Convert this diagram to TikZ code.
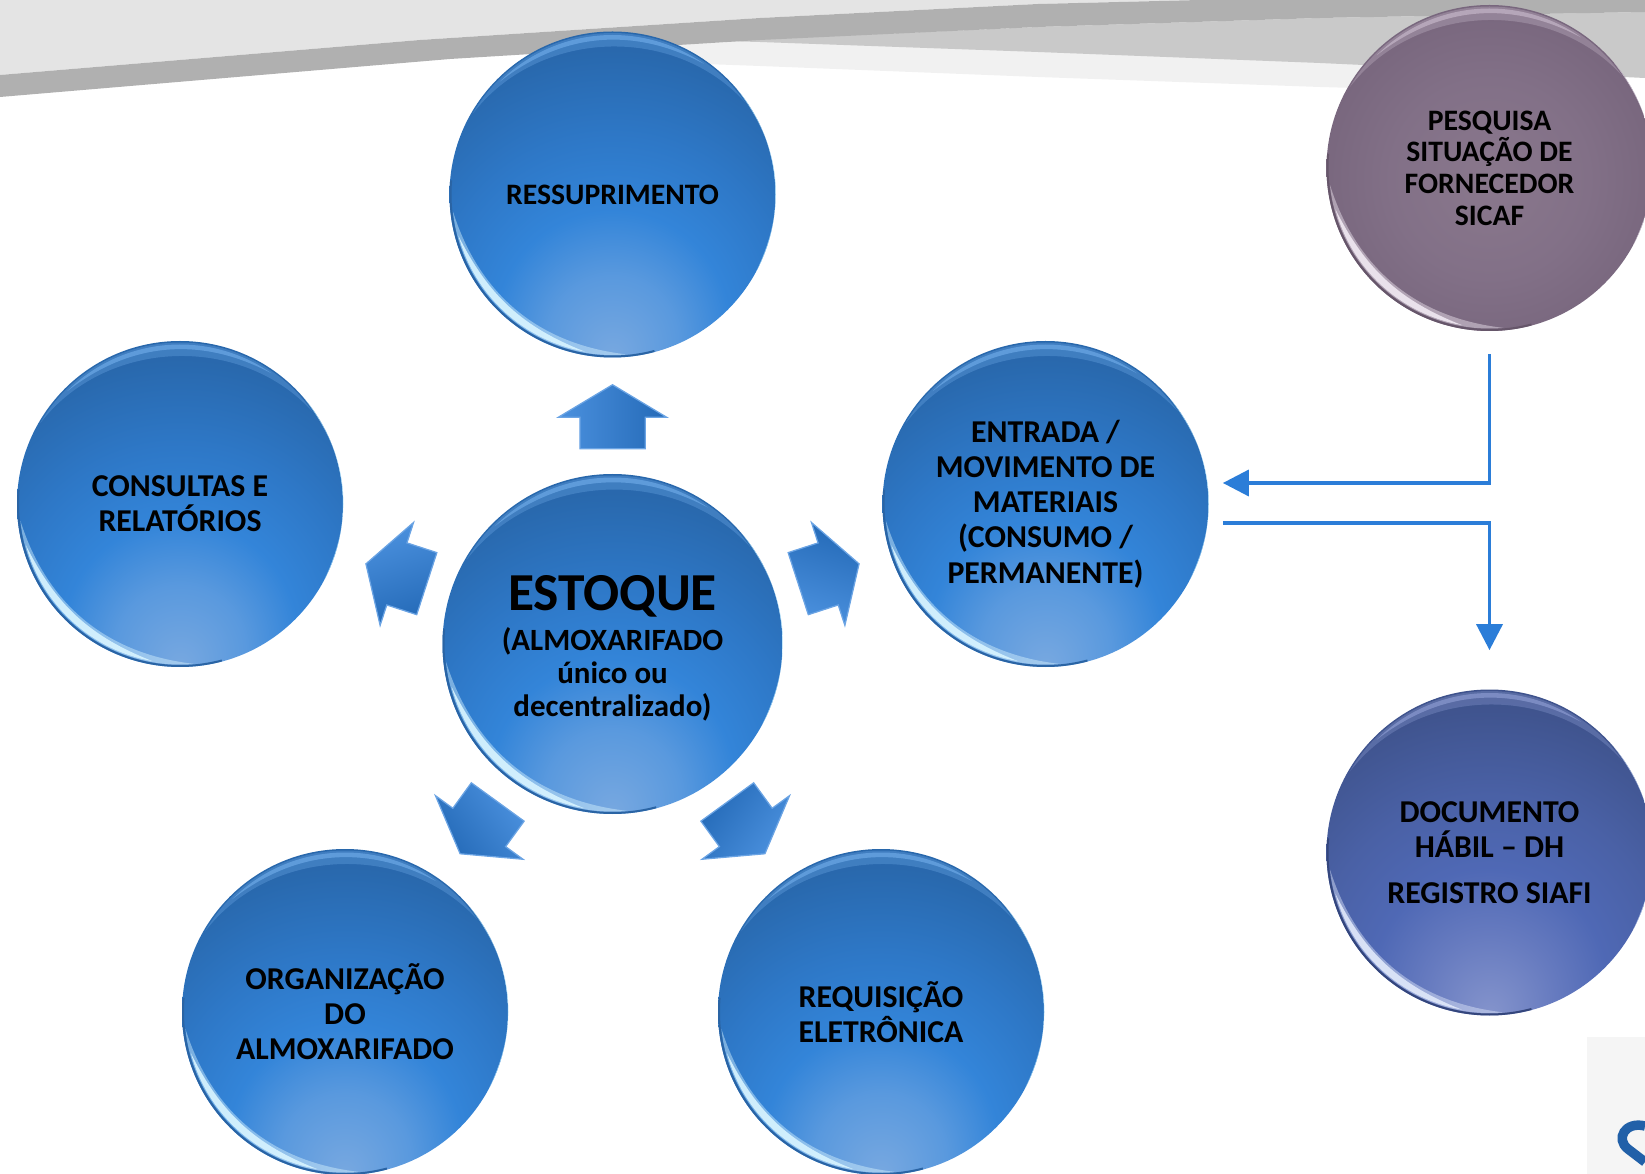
\documentclass[tikz,border=0pt]{standalone}
\usepackage{fontspec}
\setmainfont{Carlito}
\usetikzlibrary{shapes.arrows,arrows.meta}

\definecolor{bandlight}{HTML}{E4E4E4}
\definecolor{banddark}{HTML}{B0B0B0}
\definecolor{bandmid}{HTML}{C9C9C9}
\definecolor{bandpale}{HTML}{F1F1F1}
\definecolor{flowblue}{HTML}{2B7DD8}
\definecolor{logoblue}{HTML}{2160A8}
\definecolor{logoback}{HTML}{F5F5F5}
\definecolor{litblue}{HTML}{D8F4FF}
\definecolor{topblue}{HTML}{6CA8E6}
\definecolor{rimblue}{HTML}{2A64A4}
\definecolor{edgeblue}{HTML}{A8DCF8}
\definecolor{litmauve}{HTML}{F0E8F2}
\definecolor{topmauve}{HTML}{C4B6C8}
\definecolor{rimmauve}{HTML}{66566A}
\definecolor{edgemauve}{HTML}{DDD4E0}
\definecolor{litindigo}{HTML}{E0E8FA}
\definecolor{topindigo}{HTML}{8A9AD0}
\definecolor{rimindigo}{HTML}{34467C}
\definecolor{edgeindigo}{HTML}{C0D0F0}

\pgfdeclareradialshading{blueball}{\pgfpoint{0bp}{-25bp}}{
  rgb(0bp)=(0.47,0.66,0.88);
  rgb(10bp)=(0.35,0.60,0.87);
  rgb(18bp)=(0.20,0.52,0.85);
  rgb(27bp)=(0.18,0.47,0.78);
  rgb(37.5bp)=(0.16,0.41,0.68);
  rgb(50bp)=(0.14,0.38,0.64);
  rgb(100bp)=(0.14,0.38,0.64)}
\pgfdeclareradialshading{mauveball}{\pgfpoint{0bp}{-2bp}}{
  rgb(0bp)=(0.54,0.47,0.55);
  rgb(15bp)=(0.51,0.44,0.53);
  rgb(30bp)=(0.46,0.39,0.48);
  rgb(100bp)=(0.46,0.39,0.48)}
\pgfdeclareradialshading{indigoball}{\pgfpoint{0bp}{-25bp}}{
  rgb(0bp)=(0.52,0.58,0.80);
  rgb(10bp)=(0.40,0.48,0.75);
  rgb(18bp)=(0.31,0.41,0.71);
  rgb(27bp)=(0.29,0.38,0.65);
  rgb(37.5bp)=(0.25,0.33,0.56);
  rgb(50bp)=(0.22,0.29,0.50);
  rgb(100bp)=(0.22,0.29,0.50)}

\tikzset{
  ball/.style={circle,minimum size=6.52cm,inner sep=0,align=center,font=\fontsize{18.1}{20}\selectfont\bfseries},
  smallball/.style={font=\fontsize{16.9}{18}\selectfont\bfseries},
  blueball/.style={ball,shade,shading=blueball},
  updown/.style={single arrow,single arrow tip angle=118,single arrow head extend=.43cm,
    inner xsep=0,inner ysep=.64cm,minimum height=1.28cm,anchor=tip,
    draw=flowblue!70!white,line width=.025cm},
  flow/.style={draw=flowblue,line width=.072cm,-{Triangle[length=.52cm,width=.52cm]}}
}

\begin{document}
\begin{tikzpicture}
      \useasboundingbox (0,0) rectangle (32.9,-23.48);

      \fill[bandlight] (0,0) -- (0,-1.5) -- (8.4,-.8) -- (15.2,-.36) -- (20.76,-.08) -- (24,0) -- cycle;
      \fill[bandpale] (13,-.9) -- (32,-.2) -- (32,-1.9) -- (26.4,-1.74) -- (20.76,-1.54) -- (15.2,-1.32) -- (13,-1.24) -- cycle;
      \fill[bandmid] (14.4,-.82) -- (20.76,-.54) -- (26.4,-.36) -- (32.9,-.24) -- (32.9,-1.56) -- (26.4,-1.26) -- (20.76,-1.04) -- (15.2,-.84) -- cycle;
      \fill[banddark] (0,-1.5) -- (8.4,-.8) -- (15.2,-.36) -- (20.76,-.08) -- (24,0) -- (32.9,0)
          -- (32.9,-.24) -- (26.4,-.36) -- (20.76,-.54) -- (15.2,-.8) -- (9,-1.18) -- (0,-1.94) -- cycle;

      \fill[logoback] (31.74,-20.74) rectangle (32.9,-23.48);
      \draw[logoblue,line width=.19cm] (32.9,-22.52) .. controls (32.5,-22.42) and (32.3,-22.78) .. (32.56,-22.98) -- (32.9,-23.24);

      \node[blueball,minimum size=6.8cm,font=\fontsize{17.6}{18.8}\selectfont\bfseries] (estoque) at (12.25,-12.88) {\rule{0pt}{24.6pt}{\fontsize{30.4}{34}\selectfont ESTOQUE}\\[4pt](ALMOXARIFADO\\único ou\\decentralizado)};
      \node[blueball,smallball,above of=estoque,node distance=8.99cm] (ressup) {RESSUPRIMENTO};
      \node[blueball] (consultas) at (3.6,-10.08) {CONSULTAS E\\RELATÓRIOS};
      \node[blueball,right of=consultas,node distance=17.31cm] (entrada) {ENTRADA /\\MOVIMENTO DE\\MATERIAIS\\(CONSUMO /\\PERMANENTE)};
      \node[blueball] (organiza) at (6.9,-20.24) {ORGANIZAÇÃO\\DO\\ALMOXARIFADO};
      \node[blueball,right of=organiza,node distance=10.72cm] (requisita) {REQUISIÇÃO\\ELETRÔNICA};
      \node[ball,smallball,shade,shading=mauveball] (pesquisa) at (29.79,-3.36) {PESQUISA\\SITUAÇÃO DE\\FORNECEDOR\\SICAF};
      \node[ball,shade,shading=indigoball,below of=pesquisa,node distance=13.69cm] (documento) {DOCUMENTO\\HÁBIL – DH\\[6pt]REGISTRO SIAFI};

      \foreach \n/\r/\tone in {estoque/3.4/blue,ressup/3.26/blue,consultas/3.26/blue,entrada/3.26/blue,
          organiza/3.26/blue,requisita/3.26/blue,pesquisa/3.26/mauve,documento/3.26/indigo} {
        \fill[top\tone,opacity=.35] ([shift={(150:\r-.03)}]\n.center) arc (150:35:\r-.03) to[bend right=50] cycle;
        \fill[top\tone,opacity=.7] ([shift={(135:\r-.07)}]\n.center) arc (135:55:\r-.07) to[bend right=33] cycle;
        \fill[lit\tone,opacity=.45] ([shift={(186:\r-.05)}]\n.center) arc (186:275:\r-.05) to[bend left=33] cycle;
        \fill[lit\tone,opacity=.9] ([shift={(195:\r-.07)}]\n.center) arc (195:260:\r-.07) to[bend left=21] cycle;
        \draw[rim\tone,line width=.04cm] ([shift={(175:\r-.02)}]\n.center) arc (175:285:\r-.02);
        \fill[edge\tone] ([shift={(-28:\r)}]\n.center) arc (-28:40:\r) to[bend left=32] cycle;
      }

      \foreach \ang/\nm in {90/toressup,18/toentrada,162/toconsultas,-54/torequisita,234/toorganiza}
        \node[updown,rotate=\ang,top color=flowblue!85!black,bottom color=flowblue!85!white,shading angle=-\ang] (\nm) at ([shift={(\ang:5.2)}]estoque.center) {};

      \coordinate (entradain) at ([shift={(.28,.42)}]entrada.east);
      \coordinate (entradaout) at ([shift={(.28,-.38)}]entrada.east);
      \draw[flow,shorten <=.46cm] (pesquisa.south) |- (entradain);
      \draw[flow,shorten >=.78cm] (entradaout) -| (documento.north);
      \end{tikzpicture}
\end{document}
